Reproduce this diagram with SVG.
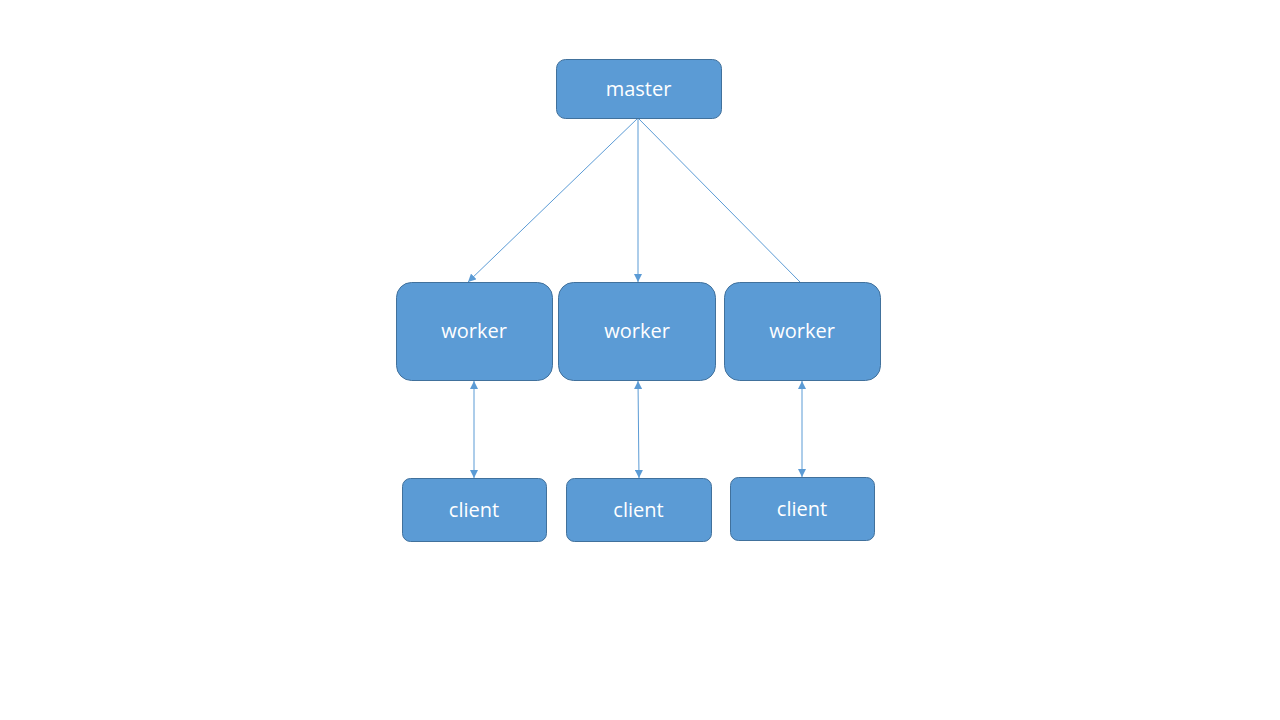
<svg xmlns="http://www.w3.org/2000/svg" width="1280" height="720" viewBox="0 0 1280 720">
<defs>
<style>
.box{fill:#5B9BD5;stroke:#41719C;stroke-width:1}
.lbl{fill:#FFFFFF;font-family:"Open Sans","Liberation Sans",sans-serif;font-size:20px;text-anchor:middle}
.con{stroke:#5B9BD5;stroke-width:1;fill:none}
</style>
<marker id="ah" viewBox="0 0 10 10" refX="10" refY="5" markerWidth="8" markerHeight="8" markerUnits="userSpaceOnUse" orient="auto-start-reverse">
<path d="M0,0 L10,5 L0,10 z" fill="#5B9BD5"/>
</marker>
</defs>
<rect width="1280" height="720" fill="#FFFFFF"/>
<g id="connectors">
<line class="con" x1="638" y1="118" x2="468" y2="282" marker-end="url(#ah)"/>
<line class="con" x1="638" y1="118" x2="638" y2="282" marker-end="url(#ah)"/>
<line class="con" x1="638" y1="118" x2="801" y2="283"/>
<line class="con" x1="474" y1="381" x2="474" y2="478" marker-start="url(#ah)" marker-end="url(#ah)"/>
<line class="con" x1="638" y1="381" x2="639" y2="478" marker-start="url(#ah)" marker-end="url(#ah)"/>
<line class="con" x1="802" y1="381" x2="802" y2="477" marker-start="url(#ah)" marker-end="url(#ah)"/>
</g>
<g id="master">
<rect class="box" x="556.5" y="59.5" width="165" height="59" rx="9"/>
<text class="lbl" x="638.5" y="96">master</text>
</g>
<g id="worker1">
<rect class="box" x="396.5" y="282.5" width="156" height="98" rx="15"/>
<text class="lbl" x="474" y="338">worker</text>
</g>
<g id="worker2">
<rect class="box" x="558.5" y="282.5" width="157" height="98" rx="15"/>
<text class="lbl" x="637" y="338">worker</text>
</g>
<g id="worker3">
<rect class="box" x="724.5" y="282.5" width="156" height="98" rx="15"/>
<text class="lbl" x="802" y="338">worker</text>
</g>
<g id="client1">
<rect class="box" x="402.5" y="478.5" width="144" height="63" rx="8"/>
<text class="lbl" x="474" y="517">client</text>
</g>
<g id="client2">
<rect class="box" x="566.5" y="478.5" width="145" height="63" rx="8"/>
<text class="lbl" x="638.5" y="517">client</text>
</g>
<g id="client3">
<rect class="box" x="730.5" y="477.5" width="144" height="63" rx="8"/>
<text class="lbl" x="802" y="516">client</text>
</g>
</svg>
